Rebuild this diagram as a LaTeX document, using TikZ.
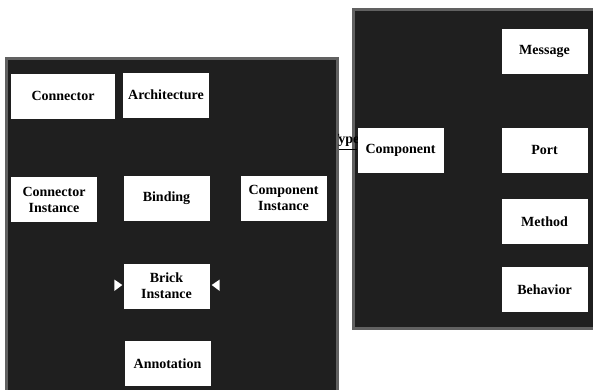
\documentclass[tikz,border=0pt]{standalone}
\usepackage{fontspec}
\setmainfont{Liberation Serif}
\usetikzlibrary{calc}
\begin{document}
\begin{tikzpicture}[x=1pt,y=-1pt,
  panel/.style={fill=black!88,draw=black!62,line width=3pt},
  box/.style={fill=white,draw=none,inner sep=1pt,align=center,
    minimum width=86pt,minimum height=45pt,font=\fontsize{14}{16}\selectfont\bfseries},
  tri/.style={fill=white,draw=none},
  link/.style={draw=black,line width=0.8pt}]
\useasboundingbox (0,0) rectangle (593,389);
% panels
\path[panel] (6.5,58.5) rectangle (337,392);
\path[panel] (353.5,9.5) rectangle (597,328);
% types label (partly hidden)
\begin{scope}
\clip (338.5,120) rectangle (358,147);
\node[font=\fontsize{14}{16}\selectfont\bfseries,anchor=base east,inner sep=0pt] (types) at (365,143) {Types};
\end{scope}
% left panel boxes
\node[box,minimum width=104pt] (connector) at (63,96) {Connector};
\node[box] (architecture) at (166,95) {Architecture};
\node[box] (connectorinst) at (54,199.5) {Connector\\Instance};
\node[box] (binding) at (166.5,198.5) {Binding};
\node[box] (compinst) at (283.5,198) {Component\\Instance};
\node[box] (brick) at (166.5,286) {Brick\\Instance};
\node[box] (annotation) at (167.5,363.5) {Annotation};
% right panel boxes
\node[box] (message) at (544.5,51) {Message};
\node[box] (component) at (400.5,150.5) {Component};
\node[box] (port) at (544.5,150) {Port};
\node[box] (method) at (544.5,221.5) {Method};
\node[box] (behavior) at (544.5,289.5) {Behavior};
% arrow heads at brick instance
\fill[tri] ($(brick.west)+(-9,-6.5)$) -- ($(brick.west)+(-1,-1)$) -- ($(brick.west)+(-9,5)$) -- cycle;
\fill[tri] ($(brick.east)+(10,-6.5)$) -- ($(brick.east)+(2,-1)$) -- ($(brick.east)+(10,5)$) -- cycle;
% types link
\coordinate (tl) at (338.5,149);
\draw[link] (tl) -- (component.west |- tl);
\end{tikzpicture}
\end{document}
